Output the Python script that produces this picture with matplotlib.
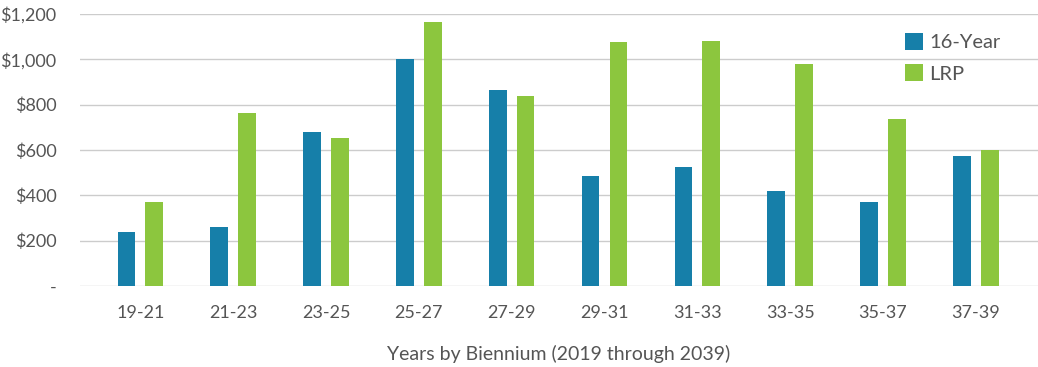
import numpy as np
import matplotlib
matplotlib.use('Agg')
import matplotlib.pyplot as plt
from matplotlib.ticker import FuncFormatter

matplotlib.rcParams['font.family'] = ['Lato', 'DejaVu Sans']

# data ($ millions)
bienniums = ['19-21', '21-23', '23-25', '25-27', '27-29', '29-31', '31-33', '33-35', '35-37', '37-39']
year16 = [238, 260, 679, 1001, 865, 487, 525, 419, 370, 575]
lrp = [370, 765, 653, 1165, 838, 1076, 1081, 979, 737, 600]

blue = '#167fa9'
green = '#8cc63e'
text_col = '#555555'

fig = plt.figure(figsize=(10.38, 3.67), dpi=100)
ax = fig.add_axes([80 / 1038, 1 - 286 / 367, (1038 - 80) / 1038, (286 - 14) / 367])

x = np.arange(len(bienniums))
w = 0.19
ax.bar(x - 0.15, year16, width=w, color=blue, label='16-Year', zorder=3)
ax.bar(x + 0.15, lrp, width=w, color=green, label='LRP', zorder=3)

ax.set_ylim(0, 1200)
ax.set_xlim(-0.65, 9.67)
ax.set_yticks(np.arange(0, 1201, 200))
ax.yaxis.set_major_formatter(FuncFormatter(lambda v, p: '-' if v == 0 else '${:,.0f}'.format(v)))
ax.set_xticks(x)
ax.set_xticklabels(bienniums)
ax.grid(axis='y', color='#cccccc', linewidth=1, zorder=0)
for s in ax.spines.values():
    s.set_visible(False)
ax.tick_params(axis='both', length=0, labelsize=13, colors=text_col)
ax.tick_params(axis='y', pad=17)
ax.tick_params(axis='x', pad=14)

ax.set_xlabel('Years by Biennium (2019 through 2039)', fontsize=14, color=text_col, labelpad=17)

leg = ax.legend(loc='upper left', bbox_to_anchor=(905 / 1038, 1 - 33 / 367),
                bbox_transform=fig.transFigure, frameon=False, fontsize=14.5,
                borderpad=0, borderaxespad=0,
                handlelength=0.9, handleheight=0.9, handletextpad=0.3, labelspacing=0.65)
for t in leg.get_texts():
    t.set_color(text_col)

plt.savefig('out.png', dpi=100)
